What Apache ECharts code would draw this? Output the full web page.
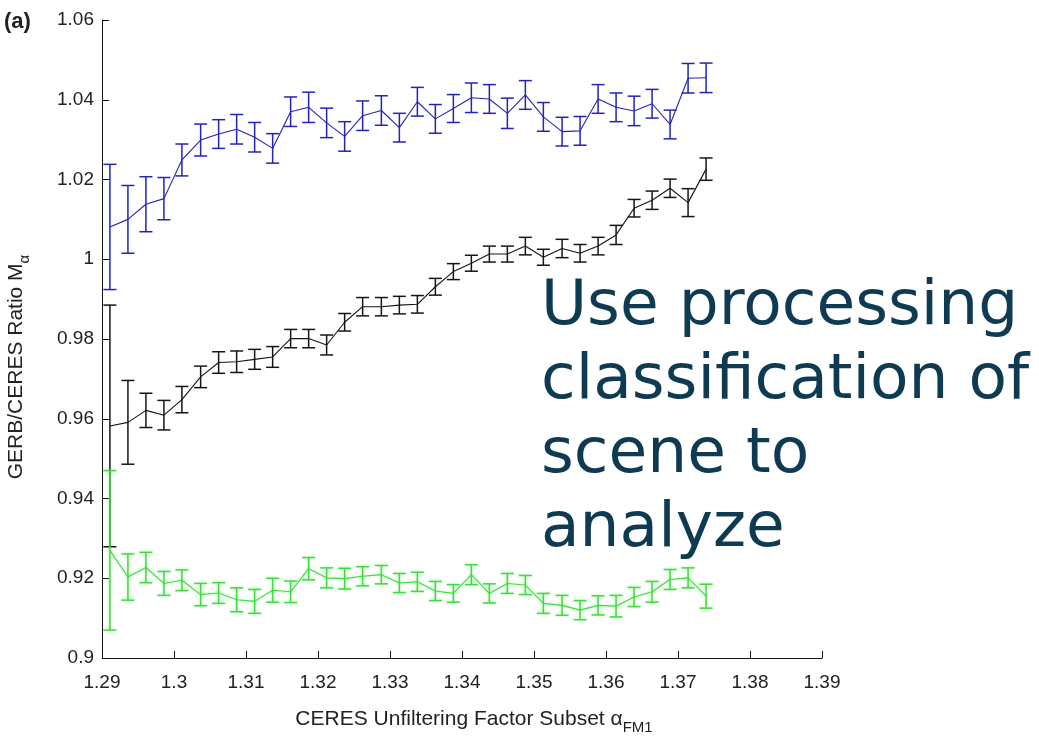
<!DOCTYPE html>
<html>
<head>
<meta charset="utf-8">
<script src="https://cdn.jsdelivr.net/npm/echarts@6/dist/echarts.min.js"></script>
<style>
  html, body { margin: 0; padding: 0; background: #fff; }
  #chart { width: 1039px; height: 738px; }
</style>
</head>
<body>
<div id="chart"></div>
<script>
// CERES unfiltering factor subset (x positions of the bins)
const alphaSubset = [
  1.2911, 1.2936, 1.2961, 1.2986, 1.3011, 1.3037, 1.3062, 1.3087, 1.3112, 1.3137,
  1.3162, 1.3187, 1.3212, 1.3237, 1.3262, 1.3288, 1.3313, 1.3338, 1.3363, 1.3388,
  1.3413, 1.3438, 1.3463, 1.3488, 1.3513, 1.3539, 1.3564, 1.3589, 1.3614, 1.3639,
  1.3664, 1.3689, 1.3714, 1.3739
];

// Blue scene class: ratio and error half-width
const blueRatio = [
  1.0081, 1.0100, 1.0138, 1.0152, 1.0249, 1.0299, 1.0314, 1.0326, 1.0306, 1.0278,
  1.0370, 1.0381, 1.0342, 1.0308, 1.0360, 1.0373, 1.0330, 1.0395, 1.0352, 1.0378,
  1.0405, 1.0402, 1.0366, 1.0412, 1.0357, 1.0320, 1.0322, 1.0402, 1.0381, 1.0372,
  1.0390, 1.0338, 1.0454, 1.0455
];
const blueErr = [
  0.0157, 0.0085, 0.0069, 0.0053, 0.0040, 0.0040, 0.0036, 0.0037, 0.0037, 0.0037,
  0.0037, 0.0038, 0.0037, 0.0037, 0.0037, 0.0037, 0.0036, 0.0036, 0.0036, 0.0035,
  0.0037, 0.0036, 0.0038, 0.0036, 0.0036, 0.0036, 0.0036, 0.0036, 0.0036, 0.0037,
  0.0036, 0.0036, 0.0037, 0.0037
];

// Black scene class
const blackRatio = [
  0.9582, 0.9591, 0.9621, 0.9609, 0.9648, 0.9705, 0.9741, 0.9743, 0.9749, 0.9755,
  0.9801, 0.9801, 0.9785, 0.9842, 0.9881, 0.9881, 0.9885, 0.9887, 0.9931, 0.9969,
  0.9990, 1.0013, 1.0013, 1.0033, 1.0005, 1.0027, 1.0015, 1.0033, 1.0061, 1.0128,
  1.0148, 1.0178, 1.0142, 1.0226
];
const blackErr = [
  0.0303, 0.0105, 0.0043, 0.0037, 0.0033, 0.0027, 0.0027, 0.0027, 0.0025, 0.0026,
  0.0023, 0.0023, 0.0025, 0.0022, 0.0023, 0.0023, 0.0022, 0.0022, 0.0021, 0.0020,
  0.0020, 0.0020, 0.0020, 0.0022, 0.0020, 0.0023, 0.0022, 0.0022, 0.0024, 0.0022,
  0.0023, 0.0023, 0.0035, 0.0028
];

// Green scene class
const greenRatio = [
  0.9270, 0.9203, 0.9227, 0.9187, 0.9195, 0.9159, 0.9163, 0.9146, 0.9142, 0.9170,
  0.9166, 0.9224, 0.9201, 0.9199, 0.9205, 0.9209, 0.9188, 0.9191, 0.9168, 0.9162,
  0.9209, 0.9162, 0.9187, 0.9183, 0.9137, 0.9132, 0.9120, 0.9132, 0.9130, 0.9153,
  0.9166, 0.9197, 0.9201, 0.9155
];
const greenErr = [
  0.0200, 0.0058, 0.0038, 0.0030, 0.0026, 0.0028, 0.0026, 0.0030, 0.0030, 0.0030,
  0.0027, 0.0028, 0.0025, 0.0026, 0.0024, 0.0023, 0.0024, 0.0024, 0.0024, 0.0022,
  0.0025, 0.0024, 0.0025, 0.0024, 0.0025, 0.0025, 0.0024, 0.0024, 0.0027, 0.0024,
  0.0026, 0.0025, 0.0025, 0.0030
];

const colors = { blue: '#2323b8', black: '#151515', green: '#3edc3e' };
const tickFont = 'Liberation Sans, Arial, sans-serif';

function trimNum(v) { return String(+v.toFixed(2)); }

function lineSeries(name, values, color, glow) {
  return {
    type: 'line',
    name: name,
    data: alphaSubset.map((x, i) => [x, values[i]]),
    symbol: 'none',
    lineStyle: Object.assign({ color: color, width: 1.1 },
      glow ? { shadowBlur: 3, shadowColor: 'rgba(70,230,70,0.45)' } : {}),
    silent: true,
    z: 3
  };
}

function errorSeries(name, values, errs, color, glow) {
  return {
    type: 'custom',
    name: name,
    data: alphaSubset.map((x, i) => [x, values[i] - errs[i], values[i] + errs[i]]),
    encode: { x: 0, y: [1, 2] },
    silent: true,
    clip: false,
    z: 2,
    renderItem: function (params, api) {
      const x = api.value(0);
      const lo = api.coord([x, api.value(1)]);
      const hi = api.coord([x, api.value(2)]);
      const w = 6.5;
      const style = Object.assign({ stroke: color, lineWidth: 1.5, fill: null },
        glow ? { shadowBlur: 3, shadowColor: 'rgba(70,230,70,0.45)' } : {});
      return {
        type: 'group',
        children: [
          { type: 'line', shape: { x1: lo[0], y1: lo[1], x2: hi[0], y2: hi[1] }, style: style },
          { type: 'line', shape: { x1: lo[0] - w, y1: lo[1], x2: lo[0] + w, y2: lo[1] }, style: style },
          { type: 'line', shape: { x1: hi[0] - w, y1: hi[1], x2: hi[0] + w, y2: hi[1] }, style: style }
        ]
      };
    }
  };
}

const nameRich = {
  a: { fontFamily: tickFont, fontSize: 21, color: '#222', lineHeight: 26, verticalAlign: 'top' },
  s: { fontFamily: tickFont, fontSize: 15, color: '#222', lineHeight: 15, verticalAlign: 'bottom' }
};

const chart = echarts.init(document.getElementById('chart'), null, { renderer: 'canvas' });

chart.setOption({
  animation: false,
  backgroundColor: '#ffffff',
  grid: { left: 102, right: 217, top: 20, bottom: 80, containLabel: false, outerBoundsMode: 'none' },
  xAxis: {
    type: 'value',
    min: 1.29,
    max: 1.39,
    interval: 0.01,
    name: '{a|CERES Unfiltering Factor Subset α}{s|FM1}',
    nameLocation: 'middle',
    nameGap: 51,
    nameTextStyle: { padding: [0, 0, 0, 24], rich: nameRich },
    axisLine: { show: true, lineStyle: { color: '#111', width: 1 } },
    axisTick: { show: true, inside: true, length: 7, lineStyle: { color: '#111', width: 1 } },
    axisLabel: { fontFamily: tickFont, fontSize: 19, color: '#222', margin: 15, formatter: trimNum },
    splitLine: { show: false }
  },
  yAxis: {
    type: 'value',
    min: 0.9,
    max: 1.06,
    interval: 0.02,
    name: '{a|GERB/CERES Ratio M}{s|α}',
    nameLocation: 'middle',
    nameRotate: 90,
    nameGap: 70,
    nameTextStyle: { padding: [0, 56, 0, 0], rich: nameRich },
    axisLine: { show: true, lineStyle: { color: '#111', width: 1 } },
    axisTick: { show: true, inside: true, length: 7, lineStyle: { color: '#111', width: 1 } },
    axisLabel: { fontFamily: tickFont, fontSize: 19, color: '#222', margin: 8, formatter: trimNum },
    splitLine: { show: false }
  },
  graphic: [
    {
      type: 'text',
      left: 4,
      top: 11,
      style: { text: '(a)', font: 'bold 22px Liberation Sans, Arial, sans-serif', fill: '#222' }
    },
    {
      type: 'text',
      x: 541,
      y: 271,
      style: {
        text: 'Use processing\nclassification of\nscene to\nanalyze',
        font: '63px DejaVu Sans, Verdana, sans-serif',
        lineHeight: 74,
        fill: '#0e3a52',
        verticalAlign: 'top'
      }
    }
  ],
  series: [
    errorSeries('Blue error', blueRatio, blueErr, colors.blue, false),
    lineSeries('Blue', blueRatio, colors.blue, false),
    errorSeries('Black error', blackRatio, blackErr, colors.black, false),
    lineSeries('Black', blackRatio, colors.black, false),
    errorSeries('Green error', greenRatio, greenErr, colors.green, true),
    lineSeries('Green', greenRatio, colors.green, true)
  ]
});
</script>
</body>
</html>
